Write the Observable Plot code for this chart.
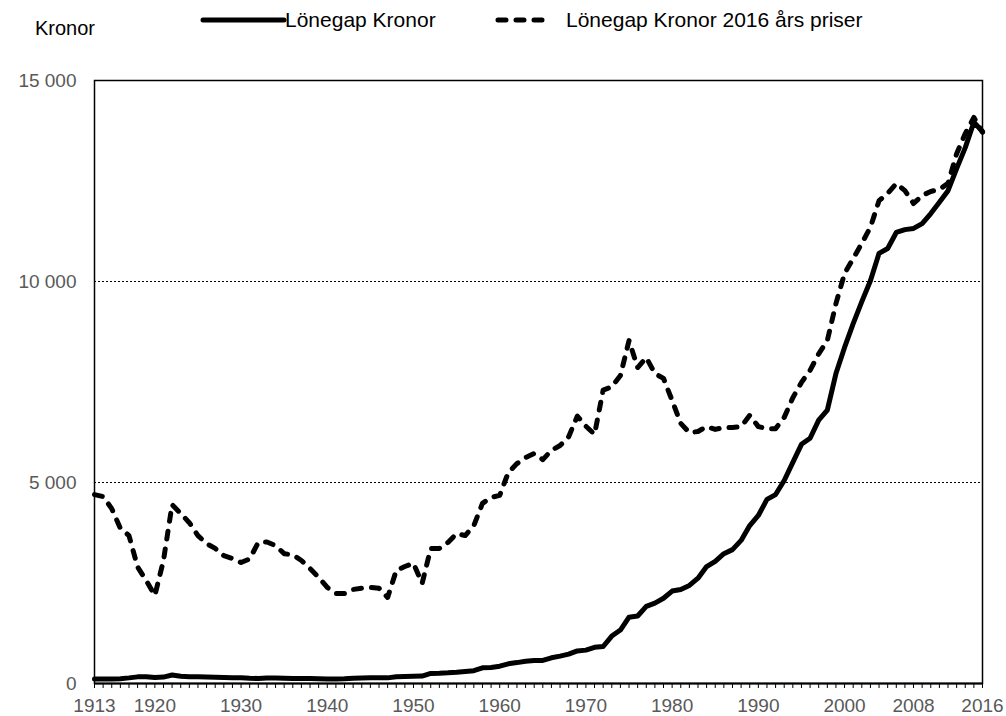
<!DOCTYPE html>
<html>
<head>
<meta charset="utf-8">
<script src="https://cdn.jsdelivr.net/npm/d3@7"></script>
<script src="https://cdn.jsdelivr.net/npm/@observablehq/plot@0.6"></script>
<style>
  html, body { margin: 0; padding: 0; background: #fff; }
  body { width: 1006px; height: 716px; overflow: hidden; font-family: "Liberation Sans", Arial, sans-serif; }
  #header { position: relative; width: 1006px; height: 60px; }
  .lbl { position: absolute; font-size: 21px; color: #000; white-space: nowrap; line-height: 1; }
  .sw { position: absolute; }
</style>
</head>
<body>
<div id="header">
  <div class="lbl" style="left:35px; top:18px; font-size:20px;">Kronor</div>
  <svg class="sw" style="left:200px; top:12px;" width="88" height="16"><line x1="3" y1="8" x2="84" y2="8" stroke="#000" stroke-width="5" stroke-linecap="round"/></svg>
  <div class="lbl" style="left:285px; top:9px;">Lönegap Kronor</div>
  <svg class="sw" style="left:494px; top:12px;" width="60" height="16"><line x1="4" y1="8" x2="56" y2="8" stroke="#000" stroke-width="5" stroke-linecap="round" stroke-dasharray="8,10"/></svg>
  <div class="lbl" style="left:566px; top:9px;">Lönegap Kronor 2016 års priser</div>
</div>
<div id="chart"></div>
<script>
const years = d3.range(1913, 2017);

// Lönegap Kronor (nominal)
const nominal = [
  110, 110, 115, 120, 140, 165, 170, 150, 160, 210,   // 1913-1922
  180, 170, 165, 160, 155, 150, 145, 140, 130, 125,   // 1923-1932
  135, 135, 130, 125, 125, 125, 120, 115, 115, 120,   // 1933-1942
  130, 135, 140, 140, 140, 170, 175, 180, 185, 250,   // 1943-1952
  255, 265, 280, 300, 320, 390, 400, 430, 490, 520,   // 1953-1962
  555, 570, 575, 640, 680, 730, 810, 830, 900, 920,   // 1963-1972
  1180, 1330, 1650, 1680, 1920, 2000, 2120, 2300, 2340, 2440, // 1973-1982
  2620, 2910, 3040, 3230, 3330, 3560, 3930, 4180, 4580, 4700, // 1983-1992
  5050, 5500, 5950, 6100, 6550, 6800, 7710, 8360, 8950, 9500, // 1993-2002
  10020, 10700, 10820, 11220, 11290, 11320, 11440, 11690, 11970, 12260, // 2003-2012
  12810, 13330, 13960, 13730                            // 2013-2016
];

// Lönegap Kronor 2016 års priser (real)
const real = [
  4700, 4650, 4350, 3860, 3680, 2900, 2560, 2190, 3060, 4450, // 1913-1922
  4230, 4000, 3680, 3480, 3360, 3180, 3110, 3010, 3100, 3510, // 1923-1932
  3520, 3430, 3230, 3200, 3060, 2860, 2640, 2390, 2240, 2240, // 1933-1942
  2340, 2370, 2390, 2370, 2140, 2810, 2910, 2990, 2490, 3360, // 1943-1952
  3360, 3510, 3730, 3680, 3930, 4480, 4630, 4680, 5250, 5470, // 1953-1962
  5620, 5720, 5570, 5800, 5920, 6140, 6650, 6400, 6200, 7300, // 1963-1972
  7380, 7660, 8530, 7860, 8110, 7710, 7590, 7040, 6470, 6240, // 1973-1982
  6270, 6390, 6320, 6370, 6370, 6390, 6670, 6390, 6340, 6340, // 1983-1992
  6620, 7110, 7490, 7790, 8200, 8530, 9450, 10200, 10570, 10950, // 1993-2002
  11350, 12010, 12190, 12440, 12260, 11940, 12140, 12240, 12290, 12440, // 2003-2012
  13180, 13680, 14080, 13710                            // 2013-2016
];

const xLabels = [1913, 1920, 1930, 1940, 1950, 1960, 1970, 1980, 1990, 2000, 2008, 2016];
const yTicks = [0, 5000, 10000, 15000];

const data = years.map((y, i) => ({year: y, nominal: nominal[i], real: real[i]}));
const fmt = d => String(d).replace(/\B(?=(\d{3})+(?!\d))/g, " ");

const chart = Plot.plot({
  width: 1006,
  height: 656,
  marginTop: 20,
  marginBottom: 33,
  marginLeft: 94,
  marginRight: 24,
  style: {fontFamily: "'Liberation Sans', Arial, sans-serif", background: "#fff", overflow: "visible"},
  x: {domain: [1913, 2016]},
  y: {domain: [0, 15000]},
  marks: [
    Plot.gridY([5000, 10000], {stroke: "#000", strokeOpacity: 1, strokeWidth: 1, strokeDasharray: "2,2"}),
    Plot.axisY({ticks: yTicks, tickSize: 0, tickPadding: 18, tickFormat: fmt, fontSize: 19, fill: "#595959", label: null}),
    Plot.axisX({ticks: years, tickSize: 5, tickFormat: () => "", stroke: "#000", strokeWidth: 1, label: null}),
    Plot.axisX({ticks: xLabels, tickSize: 0, tickPadding: 15, tickFormat: d => String(d), fontSize: 19, fill: "#595959", label: null}),
    Plot.frame({stroke: "#000", strokeWidth: 1.5}),
    Plot.ruleY([0], {stroke: "#000", strokeWidth: 2}),
    Plot.line(data, {x: "year", y: "real", stroke: "#000", strokeWidth: 5, strokeDasharray: "8,10", strokeLinecap: "round", strokeLinejoin: "round"}),
    Plot.line(data, {x: "year", y: "nominal", stroke: "#000", strokeWidth: 5, strokeLinejoin: "round"})
  ]
});
document.getElementById("chart").appendChild(chart);
</script>
</body>
</html>
